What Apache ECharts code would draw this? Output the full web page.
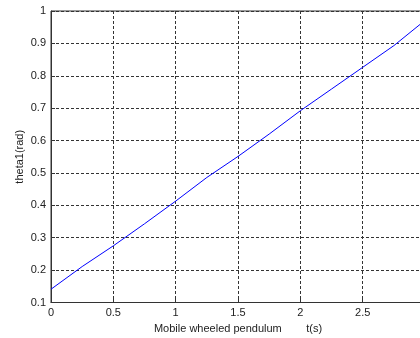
<!DOCTYPE html>
<html><head><meta charset="utf-8">
<script src="https://cdn.jsdelivr.net/npm/echarts@6/dist/echarts.min.js"></script>
<style>html,body{margin:0;padding:0;background:#fff}#c{width:420px;height:338px}</style>
</head><body><div id="c"></div>
<script>
var tValues = [0, 0.25, 0.5, 0.75, 1, 1.25, 1.5, 1.75, 2, 2.25, 2.5, 2.75, 3];
var theta1 = [0.141, 0.211, 0.275, 0.343, 0.413, 0.486, 0.551, 0.62, 0.692, 0.759, 0.826, 0.893, 0.971];
var xTickLabels = ['0', '0.5', '1', '1.5', '2', '2.5', '3'];
var yTickLabels = ['0.1', '0.2', '0.3', '0.4', '0.5', '0.6', '0.7', '0.8', '0.9', '1'];
var xTitle = 'Mobile wheeled pendulum        t(s)';
var yTitle = 'theta1(rad)';

var chart = echarts.init(document.getElementById('c'), null, {renderer: 'canvas'});
var font = 'Liberation Sans, Arial, sans-serif';
var data = tValues.map(function (t, i) { return [t, theta1[i]]; });
chart.setOption({
  animation: false,
  backgroundColor: '#fff',
  grid: {left: 51, top: 11, width: 374, height: 291.5, show: true, borderColor: '#333', borderWidth: 1,
    backgroundColor: '#fff', containLabel: false, outerBoundsMode: 'none'},
  xAxis: {
    type: 'value', min: 0, max: 3, interval: 0.5,
    name: xTitle, nameLocation: 'middle', nameGap: 21, nameMoveOverlap: false,
    nameTextStyle: {fontFamily: font, fontSize: 11, color: '#222'},
    axisLine: {show: true, lineStyle: {color: '#333'}},
    axisTick: {show: true, inside: true, length: 4, lineStyle: {color: '#333'}},
    axisLabel: {fontFamily: font, fontSize: 11, color: '#222', margin: 5,
      formatter: function (v) { var s = String(v); return xTickLabels.indexOf(s) >= 0 ? s : ''; }},
    splitLine: {show: true, lineStyle: {color: '#333', type: [3, 2], width: 1}}
  },
  yAxis: {
    type: 'value', min: 0.1, max: 1, interval: 0.1,
    name: yTitle, nameLocation: 'middle', nameGap: 26, nameRotate: 90, nameMoveOverlap: false,
    nameTextStyle: {fontFamily: font, fontSize: 11, color: '#222'},
    axisLine: {show: true, lineStyle: {color: '#333'}},
    axisTick: {show: true, inside: true, length: 4, lineStyle: {color: '#333'}},
    axisLabel: {fontFamily: font, fontSize: 11, color: '#222', margin: 5,
      formatter: function (v) { var s = String(Math.round(v * 10) / 10); return yTickLabels.indexOf(s) >= 0 ? s : ''; }},
    splitLine: {show: true, lineStyle: {color: '#333', type: [3, 2], width: 1}}
  },
  series: [{
    type: 'line', data: data, smooth: false, showSymbol: false,
    lineStyle: {color: '#0000ff', width: 1}
  }]
});
</script></body></html>
